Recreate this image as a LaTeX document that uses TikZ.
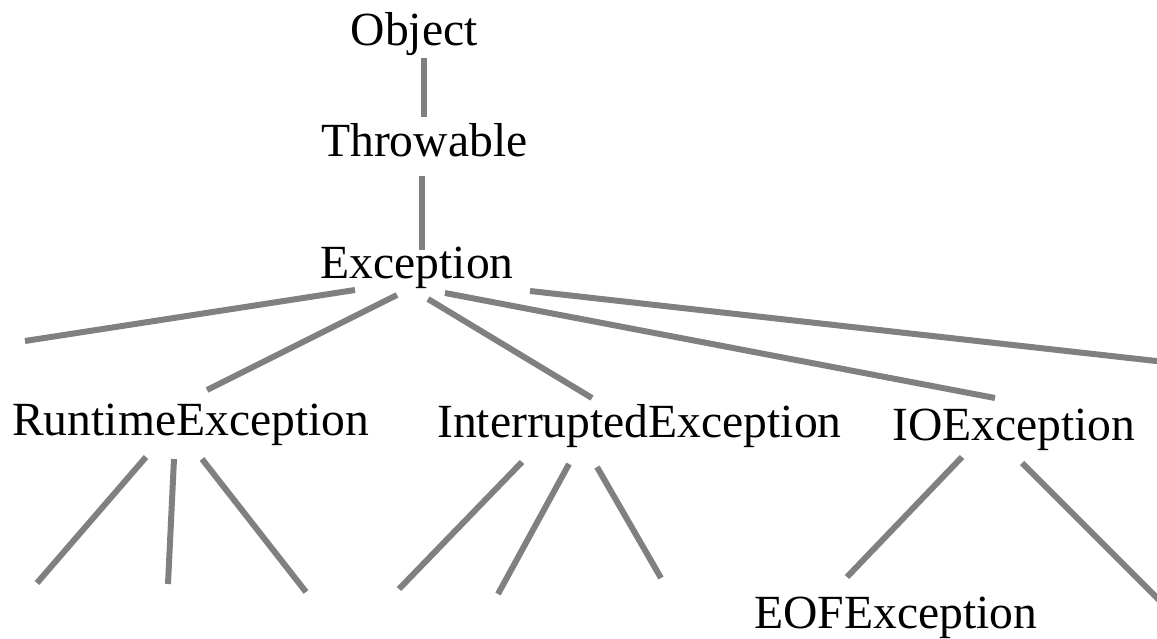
\documentclass[tikz,border=0pt]{standalone}
\usepackage{fontspec}
\setmainfont{Liberation Serif}
\usepackage{tikz}
\usetikzlibrary{calc}
\definecolor{colorline}{RGB}{128,128,128}
\definecolor{colortext}{RGB}{0,0,0}

\begin{document}
\begin{tikzpicture}[
    x=1pt, y=-1pt,
    cls/.style={text=colortext,font={\fontsize{47.6}{57}\selectfont},inner sep=0pt,anchor=base west},
    link/.style={draw=colorline,line width=6pt},
]

    % Frame
    \clip (0,0) rectangle (1157,639);

    % Nodes
    \node[cls] (object)      at (350.5,46) {Object};
    \node[cls] (throwable)   at (321,157)  {Throwable};
    \node[cls] (exception)   at (320.5,279) {Exception};
    \node[cls] (runtime)     at (12,435)   {RuntimeException};
    \node[cls] (interrupted) at (437,437)  {InterruptedException};
    \node[cls] (ioexc)       at (892,440)  {IOException};
    \node[cls] (eof)         at (754,628)  {EOFException};

    % Open ends
    \coordinate (exleft)  at (25,341);
    \coordinate (exright) at (1165,362);
    \coordinate (rt1) at (37,583);
    \coordinate (rt2) at (168,584);
    \coordinate (rt3) at (306,592);
    \coordinate (ie1) at (399,589);
    \coordinate (ie2) at (498,594);
    \coordinate (ie3) at (661,578);
    \coordinate (io2) at (1166,607);

    % Upper chain
    \draw[link] ($(object.base west)+(73.5,12)$) -- ($(throwable.base west)+(103,-40)$);
    \draw[link] ($(throwable.base west)+(101,19)$) -- ($(exception.base west)+(101.5,-29)$);

    % Exception subclasses
    \draw[link] ($(exception.base west)+(34.5,11)$)  -- (exleft);
    \draw[link] ($(exception.base west)+(76.5,16)$)  -- ($(runtime.base west)+(195,-45)$);
    \draw[link] ($(exception.base west)+(107.5,20)$) -- ($(interrupted.base west)+(155,-39)$);
    \draw[link] ($(exception.base west)+(124.5,14)$) -- ($(ioexc.base west)+(103,-42)$);
    \draw[link] ($(exception.base west)+(209.5,12)$) -- (exright);

    % RuntimeException subclasses
    \draw[link] ($(runtime.base west)+(134,22)$) -- (rt1);
    \draw[link] ($(runtime.base west)+(162,24)$) -- (rt2);
    \draw[link] ($(runtime.base west)+(190,24)$) -- (rt3);

    % InterruptedException subclasses
    \draw[link] ($(interrupted.base west)+(85,25)$)  -- (ie1);
    \draw[link] ($(interrupted.base west)+(132,27)$) -- (ie2);
    \draw[link] ($(interrupted.base west)+(160,30)$) -- (ie3);

    % IOException subclasses
    \draw[link] ($(ioexc.base west)+(70,17)$)  -- ($(eof.base west)+(93,-51)$);
    \draw[link] ($(ioexc.base west)+(130,23)$) -- (io2);

\end{tikzpicture}
\end{document}
